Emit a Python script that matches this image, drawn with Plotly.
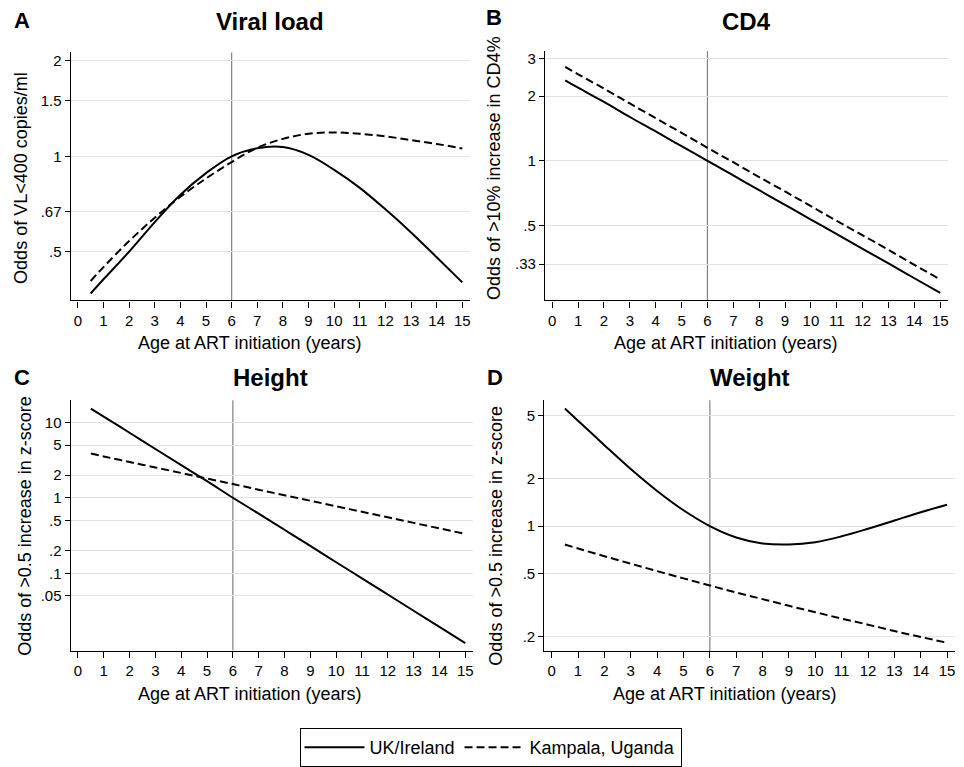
import plotly.graph_objects as go

W, H = 964, 767

# ---------------- data ----------------
age = [0.5, 1, 2, 3, 4, 5, 6, 7, 8, 9, 10, 11, 12, 13, 14, 15]

vl_uk = [0.369, 0.409, 0.50, 0.62, 0.756, 0.885, 1.0, 1.06, 1.069, 1.01,
         0.906, 0.795, 0.68, 0.575, 0.48, 0.40]
vl_kampala = [0.404, 0.447, 0.540, 0.640, 0.745, 0.851, 0.959, 1.064, 1.135,
              1.178, 1.189, 1.178, 1.156, 1.125, 1.094, 1.059]

cd4_uk = [2.37, 2.19, 1.88, 1.60, 1.37, 1.17, 1.0, 0.855, 0.73, 0.624,
          0.533, 0.456, 0.389, 0.333, 0.284, 0.243]
cd4_kampala = [2.74, 2.53, 2.17, 1.85, 1.58, 1.35, 1.15, 0.985, 0.84, 0.72,
               0.615, 0.525, 0.45, 0.385, 0.328, 0.28]

height_uk = [15.2, 11.9, 7.27, 4.43, 2.71, 1.66, 1.0, 0.617, 0.377, 0.23,
             0.14, 0.0857, 0.0523, 0.0319, 0.0195, 0.0119]
height_kampala = [3.85, 3.53, 2.98, 2.52, 2.13, 1.80, 1.52, 1.28, 1.08, 0.914,
                  0.772, 0.652, 0.551, 0.465, 0.393, 0.332]

weight_uk = [5.57, 4.66, 3.26, 2.30, 1.67, 1.26, 1.0, 0.847, 0.776, 0.764,
             0.79, 0.861, 0.962, 1.085, 1.224, 1.367]
weight_kampala = [0.764, 0.721, 0.644, 0.577, 0.518, 0.466, 0.420, 0.379,
                  0.344, 0.312, 0.284, 0.259, 0.237, 0.216, 0.198, 0.182]

x_ticks = list(range(0, 16))

yticks_a = [0.5, 0.67, 1, 1.5, 2]
ytext_a = [".5", ".67", "1", "1.5", "2"]
yticks_b = [0.33, 0.5, 1, 2, 3]
ytext_b = [".33", ".5", "1", "2", "3"]
yticks_c = [0.05, 0.1, 0.2, 0.5, 1, 2, 5, 10]
ytext_c = [".05", ".1", ".2", ".5", "1", "2", "5", "10"]
yticks_d = [0.2, 0.5, 1, 2, 5]
ytext_d = [".2", ".5", "1", "2", "5"]

series_names = ["UK/Ireland", "Kampala, Uganda"]
panel_letters = ["A", "B", "C", "D"]
panel_titles = ["Viral load", "CD4", "Height", "Weight"]
y_titles = ["Odds of VL<400 copies/ml", "Odds of >10% increase in CD4%",
            "Odds of >0.5 increase in z-score", "Odds of >0.5 increase in z-score"]
x_title = "Age at ART initiation (years)"

FONT = "Arial, Liberation Sans, Helvetica, sans-serif"


def fx(p):
    return p / W


def fy(p):
    return 1 - p / H


# panel geometry (pixels): x0, x1, ytop, ybottom, log-range
panels = [
    dict(x0=70.7, x1=470, yt=53, yb=304, yr=[-0.455, 0.328],
         tv=yticks_a, tt=ytext_a, uk=vl_uk, ka=vl_kampala),
    dict(x0=545, x1=948, yt=51.7, yb=304, yr=[-0.650, 0.511],
         tv=yticks_b, tt=ytext_b, uk=cd4_uk, ka=cd4_kampala),
    dict(x0=70.7, x1=473, yt=405, yb=658.3, yr=[-2.024, 1.292],
         tv=yticks_c, tt=ytext_c, uk=height_uk, ka=height_kampala),
    dict(x0=544.3, x1=955, yt=405, yb=659, yr=[-0.794, 0.798],
         tv=yticks_d, tt=ytext_d, uk=weight_uk, ka=weight_kampala),
]

fig = go.Figure()
layout = dict(
    width=W, height=H,
    margin=dict(l=0, r=0, t=0, b=0),
    paper_bgcolor="white", plot_bgcolor="white",
    font=dict(family=FONT, color="black"),
    showlegend=True,
)
shapes = []
annotations = []

for i, p in enumerate(panels):
    n = "" if i == 0 else str(i + 1)
    xa, ya = "x" + n, "y" + n
    layout["xaxis" + n] = dict(
        domain=[fx(p["x0"]), fx(p["x1"])], anchor=ya,
        range=[-0.28, 15.3], tickvals=x_ticks, ticks="outside", ticklen=6,
        tickcolor="black", tickwidth=1, showline=True, linecolor="black",
        linewidth=1.3, showgrid=False, zeroline=False,
        tickfont=dict(size=15, family=FONT, color="black"),
    )
    layout["yaxis" + n] = dict(
        domain=[fy(p["yb"]), fy(p["yt"])], anchor=xa, type="log",
        range=p["yr"], tickvals=p["tv"], ticktext=p["tt"], ticks="outside",
        ticklen=5, tickcolor="black", tickwidth=1, showline=True,
        linecolor="black", linewidth=1.3, showgrid=True, gridcolor="#e2e2e2",
        gridwidth=1, zeroline=False,
        tickfont=dict(size=15, family=FONT, color="black"),
    )
    fig.add_trace(go.Scatter(
        x=age, y=p["uk"], mode="lines", name=series_names[0],
        legendgroup="uk", showlegend=(i == 0), xaxis=xa, yaxis=ya,
        line=dict(color="black", width=2, shape="spline"),
    ))
    fig.add_trace(go.Scatter(
        x=age, y=p["ka"], mode="lines", name=series_names[1],
        legendgroup="ka", showlegend=(i == 0), xaxis=xa, yaxis=ya,
        line=dict(color="black", width=2, dash="8px,4px", shape="spline"),
    ))
    # reference lines: odds = 1 (log10 -> 0) and age = 6
    shapes.append(dict(type="line", xref=xa + " domain", yref=ya,
                       x0=0, x1=1, y0=0, y1=0,
                       line=dict(color="#808080", width=1.2), layer="below"))
    shapes.append(dict(type="line", xref=xa, yref=ya + " domain",
                       x0=6, x1=6, y0=0, y1=1,
                       line=dict(color="#808080", width=1.2), layer="below"))

# text positions (pixels)
letter_pos = [(22, 21), (494, 18), (22, 382), (495, 382)]
title_pos = [(270, 22), (746, 22), (270, 382), (750, 382)]
xtitle_pos = [(249, 347), (725, 347), (249, 702), (724, 702)]
ytitle_pos = [(21, 180), (494, 170), (25, 532), (496, 542)]

for i in range(4):
    annotations.append(dict(text="<b>%s</b>" % panel_letters[i], x=fx(letter_pos[i][0]),
                            y=fy(letter_pos[i][1]), xref="paper", yref="paper",
                            showarrow=False, xanchor="center", yanchor="middle",
                            font=dict(size=22, family=FONT, color="black")))
    annotations.append(dict(text="<b>%s</b>" % panel_titles[i], x=fx(title_pos[i][0]),
                            y=fy(title_pos[i][1]), xref="paper", yref="paper",
                            showarrow=False, xanchor="center", yanchor="middle",
                            font=dict(size=24, family=FONT, color="black")))
    annotations.append(dict(text=x_title, x=fx(xtitle_pos[i][0]),
                            y=fy(xtitle_pos[i][1]), xref="paper", yref="paper",
                            showarrow=False, xanchor="center", yanchor="middle",
                            font=dict(size=18, family=FONT, color="black")))
    annotations.append(dict(text=y_titles[i], x=fx(ytitle_pos[i][0]),
                            y=fy(ytitle_pos[i][1]), xref="paper", yref="paper",
                            showarrow=False, xanchor="center", yanchor="middle",
                            textangle=-90,
                            font=dict(size=18, family=FONT, color="black")))

layout["shapes"] = shapes
layout["annotations"] = annotations
layout["legend"] = dict(
    orientation="h", x=fx(490.5), xanchor="center", y=fy(737), yanchor="top",
    bordercolor="black", borderwidth=1, bgcolor="white",
    font=dict(size=18, family=FONT, color="black"),
    itemwidth=60, entrywidth=0,
)
fig.update_layout(**layout)
fig.write_html(
    "out.html",
    config={"displayModeBar": False},
    post_script="document.body.style.margin='0';document.body.style.padding='0';"
                "document.body.style.overflow='hidden';",
)
